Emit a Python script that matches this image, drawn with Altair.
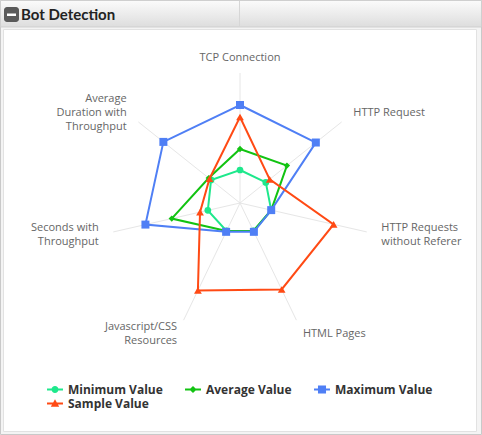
import math
import altair as alt
import pandas as pd

# ---------------- data ----------------
categories = [
    "TCP Connection",
    "HTTP Request",
    "HTTP Requests\nwithout Referer",
    "HTML Pages",
    "Javascript/CSS\nResources",
    "Seconds with\nThroughput",
    "Average\nDuration with\nThroughput",
]
series_names = ["Minimum Value", "Average Value", "Maximum Value", "Sample Value"]
min_vals = [33, 33, 32, 31, 31, 33, 37]
avg_vals = [54, 60, 32, 31, 31, 70, 40]
max_vals = [98, 97, 32, 32, 32, 97, 98]
sample_vals = [86, 38, 96, 96, 97, 41, 39]
series_colors = ["#1ee88c", "#12c312", "#4f7ff5", "#ff4a14"]
series_shapes = ["circle", "diamond", "square", "triangle-up"]
series_sizes = [45, 40, 64, 60]
axis_max = 130
label_radius = 145

# legend symbols: a short line with the series marker
legend_paths = [
    "M-1.33,-0.17H1.33V0.17H-1.33Z M0.58,0A0.58,0.58,0,1,1,-0.58,0A0.58,0.58,0,1,1,0.58,0Z",
    "M-1.33,-0.17H1.33V0.17H-1.33Z M0,-0.6L0.6,0L0,0.6L-0.6,0Z",
    "M-1.33,-0.17H1.33V0.17H-1.33Z M-0.67,-0.67H0.67V0.67H-0.67Z",
    "M-1.33,-0.17H1.33V0.17H-1.33Z M0,-0.7L0.7,0.55H-0.7Z",
]

all_vals = [min_vals, avg_vals, max_vals, sample_vals]
rows = []
for k, (name, vals) in enumerate(zip(series_names, all_vals)):
    for i, v in enumerate(vals):
        rows.append({"series": name, "sidx": k, "idx": i, "value": v})
df = pd.DataFrame(rows)
cat_df = pd.DataFrame({"category": categories, "idx": list(range(len(categories)))})

N = len(categories)
W, H = 482, 435
xs = alt.Scale(domain=[-240, 242], nice=False, zero=False)
ys = alt.Scale(domain=[-232, 203], nice=False, zero=False)

ang = f"datum.idx * 2 * PI / {N}"

def polar(chart, rfield):
    return chart.transform_calculate(
        px=f"datum.{rfield} * sin({ang})",
        py=f"datum.{rfield} * cos({ang})",
    )

one = alt.Data(values=[{}])

# ---------------- frame ----------------
outer = alt.Chart(one).mark_rect(fill="#f4f4f4", stroke="#c9c9c9", strokeWidth=1).encode(
    x=alt.value(0.5), x2=alt.value(W - 0.5), y=alt.value(0.5), y2=alt.value(H - 0.5))
panel = alt.Chart(one).mark_rect(fill="white", stroke="#e2e2e2", strokeWidth=1).encode(
    x=alt.value(3.5), x2=alt.value(W - 5.5), y=alt.value(29.5), y2=alt.value(H - 3.5))
header = alt.Chart(one).mark_rect(
    color=alt.LinearGradient(
        gradient="linear", x1=0, x2=0, y1=0, y2=1,
        stops=[alt.GradientStop(color="#fbfbfb", offset=0),
               alt.GradientStop(color="#dddddd", offset=1)]),
    stroke="#cfcfcf", strokeWidth=1,
).encode(x=alt.value(0.5), x2=alt.value(W - 0.5), y=alt.value(0.5), y2=alt.value(27))
divider = alt.Chart(one).mark_rule(color="#d6d6d6").encode(
    x=alt.value(239.5), y=alt.value(1), y2=alt.value(27))
icon = alt.Chart(one).mark_rect(color="#5a5a5a", cornerRadius=3).encode(
    x=alt.value(4), x2=alt.value(19), y=alt.value(7), y2=alt.value(22))
icon_bar = alt.Chart(one).mark_rect(color="white").encode(
    x=alt.value(7), x2=alt.value(16), y=alt.value(13.5), y2=alt.value(16))
title = alt.Chart(one).mark_text(
    text="Bot Detection", font="Lato", fontWeight="bold", fontSize=15,
    color="#222", align="left", baseline="middle",
).encode(x=alt.value(21), y=alt.value(15))

# ---------------- spokes ----------------
spokes = alt.Chart(cat_df).transform_calculate(
    r=str(axis_max), zx="0", zy="0"
)
spokes = polar(spokes, "r").mark_rule(color="#e6e6e6", strokeWidth=1).encode(
    x=alt.X("px:Q", scale=xs, axis=None),
    y=alt.Y("py:Q", scale=ys, axis=None),
    x2="zx:Q", y2="zy:Q",
)

# ---------------- labels ----------------
label_layers = []
for align, cond in [("center", "abs(datum.s) < 0.01"),
                    ("left", "datum.s >= 0.01"),
                    ("right", "datum.s <= -0.01")]:
    base = alt.Chart(cat_df).transform_calculate(
        r=str(label_radius), s=f"sin({ang})"
    ).transform_filter(cond)
    # centre multi-line blocks on the label point (line height 14)
    lab = polar(base, "r").transform_calculate(
        ly="datum.py + (split(datum.category, '\\n').length - 1) * 7"
    ).mark_text(
        align=align, baseline="middle", font="Open Sans", fontSize=11,
        color="#666666", lineBreak="\n", lineHeight=14,
    ).encode(
        x=alt.X("px:Q", scale=xs, axis=None),
        y=alt.Y("ly:Q", scale=ys, axis=None),
        text="category:N",
    )
    label_layers.append(lab)

# ---------------- series ----------------
series_layers = []
for name, col, shp, sz in zip(series_names, series_colors, series_shapes, series_sizes):
    base = polar(alt.Chart(df).transform_filter(alt.datum.series == name), "value")
    line = base.mark_line(interpolate="linear-closed", strokeWidth=2, color=col).encode(
        x=alt.X("px:Q", scale=xs, axis=None),
        y=alt.Y("py:Q", scale=ys, axis=None),
        order="idx:Q",
    )
    pts = base.mark_point(filled=True, opacity=1, shape=shp, size=sz, color=col).encode(
        x=alt.X("px:Q", scale=xs, axis=None),
        y=alt.Y("py:Q", scale=ys, axis=None),
    )
    series_layers += [line, pts]

# ---------------- legend (from scales only) ----------------
legend_layer = polar(alt.Chart(df).transform_filter("false"), "value").mark_point(
    filled=True, opacity=1
).encode(
    x=alt.X("px:Q", scale=xs, axis=None),
    y=alt.Y("py:Q", scale=ys, axis=None),
    color=alt.Color("series:N", sort=series_names,
                    scale=alt.Scale(domain=series_names, range=series_colors),
                    legend=alt.Legend(title=None, values=series_names)),
    shape=alt.Shape("series:N", sort=series_names,
                    scale=alt.Scale(domain=series_names, range=legend_paths),
                    legend=alt.Legend(title=None, values=series_names)),
)

chart = alt.layer(
    outer, panel, header, divider, icon, icon_bar, title,
    spokes, *label_layers, *series_layers, legend_layer,
).properties(
    width=W, height=H, padding=0, autosize=alt.AutoSizeParams(type="none"),
    background="white",
).configure_view(stroke=None).configure_legend(
    orient="none", direction="horizontal", legendX=49, legendY=383.5, columns=3,
    columnPadding=22, rowPadding=2, symbolSize=144, symbolStrokeWidth=0,
    labelFont="Open Sans", labelFontWeight="bold", labelFontSize=12,
    labelColor="#333333", labelOffset=7, padding=0, labelLimit=300,
)

chart.save("out.html", embed_options={"renderer": "svg", "actions": False})
